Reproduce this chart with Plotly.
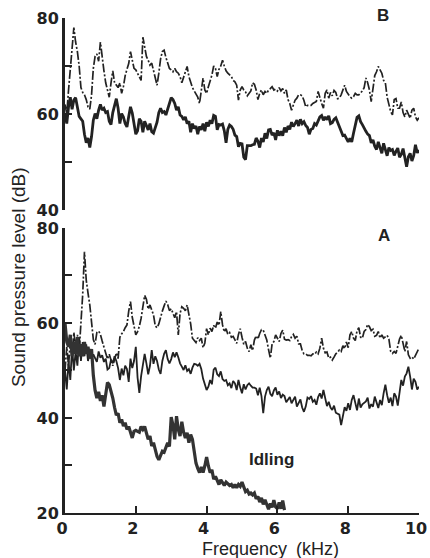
import plotly.graph_objects as go

# Frequency bins (kHz), 0.05 kHz spacing
FREQ = [round(i * 0.05, 2) for i in range(201)]

# Panel B: sound pressure level (dB)
B_UPPER = [
    62, 60, 65, 69, 74, 78, 75, 73, 70, 65.5, 64.5, 64, 63, 61.5, 61, 64, 69.5, 72, 72.5, 71,
    75, 71.5, 69, 66.5, 65, 63.5, 66.5, 69, 66.5, 66, 65.5, 66.5, 64.3, 65.7, 68, 69.3, 70.5, 73, 71, 69.5,
    69.2, 68.5, 68, 67, 76, 73.5, 72, 71.2, 70.2, 70.6, 69.2, 67.8, 66, 68.5, 71.5, 73, 73.3, 71.8, 70.5, 69.5,
    69.2, 68.8, 69.5, 68.8, 68.5, 67.8, 66.5, 67.5, 68.8, 69.9, 67.8, 66.5, 65.5, 64.8, 64.2, 63.5, 62.2, 64.5, 67.5, 65,
    64.3, 65.7, 67, 68.1, 70, 69.5, 67.8, 69.3, 70, 71.2, 70, 69, 68.5, 68.1, 67.8, 67, 66.7, 66, 62.9, 65,
    65.7, 65, 64.6, 63.8, 64.2, 64.8, 66.5, 66.2, 65, 63, 64.3, 65, 64, 64.7, 64.3, 65, 65.3, 65.7, 65, 65.2,
    64.8, 65.5, 64.8, 65.3, 64.3, 65, 63, 62.2, 60.8, 61.9, 62.9, 63.3, 64, 64, 63.8, 62.8, 61.5, 61.8, 61.8, 61.8,
    62.2, 62.4, 62.6, 64.7, 63.3, 62.2, 61.2, 64.3, 65, 63.3, 64.5, 63.8, 64.9, 64.5, 63.2, 63.3, 64, 65, 66, 64.7,
    64, 63.6, 63.3, 63.6, 64.3, 64, 64, 64.4, 64.8, 65.5, 67.5, 66.5, 65, 62.6, 65, 68, 68.8, 69.9, 69.2, 68.5,
    67, 66.5, 63.5, 62, 60.5, 59.8, 63, 63.2, 61.2, 61.2, 62.5, 60.3, 59.4, 60.8, 60.1, 59.1, 60.8, 61.2, 59.4, 58.7, 59.2,
]
B_LOWER = [
    60, 58, 61.5, 63.5, 61, 62.9, 63.4, 61, 59.5, 59, 58.5, 55.8, 54, 55, 53, 55.3, 58.7, 60.1, 59, 60.8,
    62, 60.8, 61.2, 60.3, 60.5, 58.5, 57.8, 60.3, 62, 63.2, 61.2, 58, 60.1, 59.4, 58, 57.3, 59.5, 61.5, 60.2, 58,
    55.8, 56.5, 59, 58.5, 56.2, 58.5, 57.5, 56.7, 58, 56.3, 56, 57, 58.3, 60.3, 61.2, 60.3, 60.5, 59.8, 61.2, 62,
    63.4, 63, 62.2, 60.8, 61.5, 59.8, 59.5, 58.8, 59.4, 58, 58.5, 56.2, 58, 57, 57.5, 55.8, 57.4, 56.7, 58, 56.4,
    58.3, 57.4, 58.7, 58, 59.7, 59.5, 56.7, 57.8, 57.7, 57.9, 56.5, 54, 56.8, 57.7, 57.4, 56.8, 55.6, 55.3, 53.2, 53.9,
    53.8, 51, 50.5, 53.4, 53.4, 53.4, 53.6, 53.7, 55, 54.3, 53, 55, 54.2, 56, 54.9, 56.7, 56.8, 55.6, 56.1, 54.6,
    56.6, 55.5, 56.4, 55.5, 57.2, 56.2, 57.5, 56.8, 58.3, 57.4, 58, 58.7, 57.5, 58.9, 58, 58.4, 57.6, 57.2, 55.8, 56.8,
    57, 58, 57.7, 58.6, 59.4, 59.7, 58.7, 59.4, 58.8, 59.6, 58, 58.2, 58.9, 59.2, 58.2, 57.2, 56.5, 55.5, 55.6, 54.7,
    54.2, 54.9, 54.2, 56, 57.8, 59.3, 59.6, 58.4, 57.8, 57, 56.4, 55.8, 55.5, 54, 54.6, 53.3, 52.6, 54.2, 53.2, 51.8,
    53.9, 52.5, 51.3, 53, 52.4, 52.6, 51.4, 52.2, 52.9, 51, 51.6, 52.8, 50.4, 49, 51.1, 51.8, 50.2, 51.3, 53.6, 51.9, 52.5,
]

# Panel A: sound pressure level (dB)
A_UPPER = [
    50, 55, 51, 56, 53, 58, 55, 57.5, 54, 60, 66, 75, 69, 66.3, 63.8, 60.2, 56.5, 55.5, 58, 58.3,
    57.6, 56.2, 54.8, 53.6, 52.4, 53.4, 52.4, 51, 52.3, 53.7, 52.5, 57, 57.7, 58.2, 59, 59.6, 62.5, 64.5, 61.2, 59.6,
    57.5, 58.2, 59.3, 61, 64, 65.8, 65, 62.9, 63.8, 62.9, 61.7, 59.4, 59, 59.8, 61.4, 62.5, 63.6, 64.6, 63.9, 62.6,
    63, 61.8, 61.1, 62.4, 57.5, 62, 63.4, 63.1, 62.6, 63.8, 62, 59.8, 56.8, 56.3, 55.9, 56.9, 56.3, 56.8, 54.8, 55.8,
    58.8, 57.5, 58.9, 58.2, 59.5, 58.9, 60.2, 59.5, 62.4, 59.6, 58.1, 58.8, 57.6, 58, 57, 57.2, 56.4, 55.7, 57.6, 58.8,
    57, 55.5, 56.1, 54.7, 54, 55.4, 54.2, 56.4, 57.3, 56.6, 57.8, 58.6, 58.5, 57.4, 56.4, 54.4, 52.6, 55.6, 56.1, 57.5,
    56.8, 56.1, 57.8, 58.5, 56.6, 56.4, 56.5, 56.3, 57.1, 57.6, 56.8, 57.2, 55.6, 55.6, 54.2, 53.5, 53.5, 53.2, 53.2, 53.1,
    53.5, 53.4, 53.9, 53.5, 54.7, 56.8, 54.7, 53.7, 53.9, 52.6, 52.8, 52.2, 52.8, 53.5, 53.8, 54.3, 54, 55.2, 54.6, 56,
    54.8, 57.5, 58.2, 56.8, 56.3, 58.4, 59, 57, 56.8, 58.2, 58.6, 59.7, 59.2, 58.4, 58.7, 57.2, 57.4, 58.2, 56.8, 57.5,
    56.8, 57.1, 57.4, 56.6, 54, 53.6, 54, 53.6, 55.3, 56.6, 57.4, 55.6, 54, 56.1, 53.3, 52.6, 52.9, 52.4, 53.3, 54, 54.7,
]
A_MIDDLE = [
    50, 46, 52, 48, 55, 50, 54, 51, 57, 52, 56, 53, 55.5, 52, 54, 52.5, 53.4, 52.5, 51.8, 54,
    52.7, 53.2, 51.8, 52.5, 50.2, 50.5, 52.3, 51.5, 53, 52, 50.5, 48, 50.4, 49, 51, 50.3, 47.6, 52.5, 50.5, 52,
    55, 48.5, 45.3, 48.8, 51.5, 53.5, 51.5, 49.2, 51, 54.3, 51.4, 53, 52, 50.2, 49.3, 52, 53.5, 54.3, 52.4, 51.5,
    52.4, 53.8, 52.8, 53.8, 52.8, 51.5, 50.8, 50.1, 51.1, 49.9, 50.3, 49.3, 50.6, 51.4, 51.3, 51, 51.4, 50.3, 48.3, 46.8,
    45.9, 46.6, 48, 47.1, 50.2, 50.6, 49.2, 48.8, 49.8, 48.2, 47.8, 48, 46.9, 47.3, 46.3, 47.8, 47.3, 45.9, 48, 46.4,
    45.2, 47.1, 46, 46.9, 47.3, 46.8, 46.4, 46.4, 46.2, 44.8, 46.4, 44.6, 41, 44.5, 45.9, 46.6, 45.1, 44.6, 45.8, 46.4,
    44.9, 45.6, 44.2, 44.9, 44.6, 43.3, 43.8, 44.4, 43.1, 43.8, 44.5, 42.4, 43.2, 43.9, 42.2, 41.3, 42.4, 44.3, 44, 44.6,
    43.4, 43.8, 42.8, 44.4, 45.2, 44.1, 45.9, 43.8, 42.5, 43.4, 42.2, 41.7, 42.6, 41.1, 40.9, 40.7, 38.5, 40.8, 42.3, 41.5,
    43.1, 41.7, 43.8, 44.8, 43, 41.6, 44.1, 42.2, 42.9, 43.2, 43.5, 44.3, 42, 42.9, 42.4, 44.5, 43.1, 42.1, 43.8, 42.7,
    45.2, 47, 44.8, 43.2, 44.3, 42.5, 45.2, 44.5, 42.6, 45.8, 48, 46.8, 48.7, 49.4, 50.8, 48.7, 46, 48.3, 47.6, 46, 46.6,
]
IDLING = [
    60, 56, 55, 57.5, 53, 56, 53.5, 57, 53, 55.5, 53, 56, 53.5, 55, 52.5, 54.5, 49, 45.8, 44.2, 45.5,
    43.6, 44.8, 42.4, 45, 47.5, 47, 45.8, 44.2, 42.2, 40.6, 41, 39, 39.7, 38.3, 39, 37.6, 38.2, 36.8, 35.8, 37.2,
    37.4, 37.2, 37, 38.2, 37.6, 38.2, 37, 35.5, 36.2, 34.1, 34.8, 33.3, 31.9, 31.2, 32.2, 33, 32.8, 33.8, 34.8, 34,
    40.2, 38.5, 35.5, 40.4, 37.6, 36.2, 39.2, 37, 35.8, 36.9, 34.8, 36.5, 35.5, 33, 30.5, 29.4, 28.5, 29.7, 28.5, 29.9,
    31.8, 29.9, 28.5, 29.1, 27.1, 27.7, 26.9, 26, 27, 26.3, 25.8, 26.5, 26.1, 25.8, 26, 25.3, 26, 25.3, 26, 25.6,
    26.5, 25.4, 24.5, 24.8, 24, 24.2, 23.8, 24.2, 23, 23.5, 22.3, 23.2, 21.8, 22.8, 21.8, 20.8, 22, 21.2, 22.7, 21.3,
    20.9, 22.2, 20.9, 22.6, 20.6,
]

X_TICKS = [0, 2, 4, 6, 8, 10]
B_TICKS = [40, 50, 60, 70, 80]
B_TICKTEXT = ["40", "", "60", "", "80"]
A_TICKS = [20, 30, 40, 50, 60, 70, 80]
A_TICKTEXT = ["20", "", "40", "", "60", "", "80"]

INK = "#222222"
DASHDOT = "9px,2px,2px,2px"

fig = go.Figure()
fig.add_trace(go.Scatter(x=FREQ, y=B_UPPER, mode="lines", xaxis="x2", yaxis="y",
                         line=dict(color=INK, width=1.7, dash=DASHDOT)))
fig.add_trace(go.Scatter(x=FREQ, y=B_LOWER, mode="lines", xaxis="x2", yaxis="y",
                         line=dict(color=INK, width=2.8)))
fig.add_trace(go.Scatter(x=FREQ, y=A_UPPER, mode="lines", xaxis="x", yaxis="y2",
                         line=dict(color=INK, width=1.7, dash=DASHDOT)))
fig.add_trace(go.Scatter(x=FREQ, y=A_MIDDLE, mode="lines", xaxis="x", yaxis="y2",
                         line=dict(color=INK, width=1.8)))
fig.add_trace(go.Scatter(x=FREQ[:len(IDLING)], y=IDLING, mode="lines", xaxis="x", yaxis="y2",
                         line=dict(color="#333333", width=3.2)))

tick_font = dict(family="DejaVu Sans", size=16, color=INK, weight="bold")
yax_common = dict(showgrid=False, zeroline=False, showline=True, linecolor=INK, linewidth=3,
                  ticks="inside", ticklen=7, tickwidth=1.6, tickcolor=INK, tickfont=tick_font,
                  fixedrange=True, automargin=False)

fig.update_layout(
    width=430, height=558,
    margin=dict(l=65, r=11, t=18, b=45, autoexpand=False),
    paper_bgcolor="white", plot_bgcolor="white",
    showlegend=False,
    xaxis=dict(domain=[0, 1], range=[0, 10], anchor="y2", showgrid=False, zeroline=False,
               showline=True, linecolor=INK, linewidth=2.2, ticks="inside", ticklen=7,
               tickwidth=1.6, tickcolor=INK, tickvals=X_TICKS, tickfont=tick_font,
               ticklabelshift=-3, ticklabeloverflow="allow", automargin=False),
    xaxis2=dict(domain=[0, 1], range=[0, 10], anchor="y", visible=False, matches="x",
                automargin=False),
    yaxis=dict(domain=[0.6121, 1], range=[40, 80], anchor="x2",
               tickvals=B_TICKS, ticktext=B_TICKTEXT, **yax_common),
    yaxis2=dict(domain=[0, 0.5758], range=[20, 80], anchor="x",
                tickvals=A_TICKS, ticktext=A_TICKTEXT, **yax_common),
    annotations=[
        dict(text="Sound pressure level (dB)", textangle=-90, xref="paper", yref="paper",
             x=-0.131, y=0.4758, showarrow=False, xanchor="center", yanchor="middle",
             font=dict(family="Liberation Sans", size=19, color=INK)),
        dict(text="Frequency\u2002(kHz)", xref="paper", yref="paper", x=0.5791, y=-0.0727,
             showarrow=False, xanchor="center", yanchor="middle",
             font=dict(family="Liberation Sans", size=18, color=INK)),
        dict(text="<b>B</b>", xref="x2", yref="paper", x=8.98, y=1.006, showarrow=False,
             xanchor="center", yanchor="middle",
             font=dict(family="Liberation Sans", size=17, color=INK)),
        dict(text="<b>A</b>", xref="x", yref="y2", x=9.0, y=78.5, showarrow=False,
             xanchor="center", yanchor="middle",
             font=dict(family="Liberation Sans", size=17, color=INK)),
        dict(text="<b>Idling</b>", xref="x", yref="y2", x=5.83, y=31.3, showarrow=False,
             xanchor="center", yanchor="middle",
             font=dict(family="Liberation Sans", size=17, color=INK)),
    ],
)

fig.write_html("out.html")
